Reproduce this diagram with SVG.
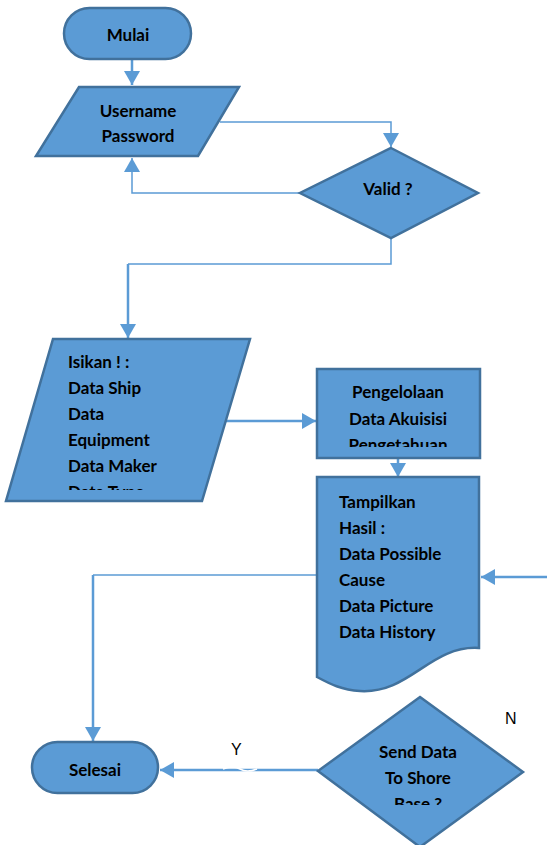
<svg xmlns="http://www.w3.org/2000/svg" width="547" height="845" viewBox="0 0 547 845">
<style>
.s{fill:#5B9BD5;stroke:#41719C;stroke-width:2.5}
.t{font-family:Lato,"Liberation Sans",sans-serif;font-weight:bold;font-size:17px;fill:#000}
.l{font-family:"Liberation Sans",sans-serif;font-size:16px;fill:#000}
.c{fill:none;stroke:#5B9BD5;stroke-width:1.5}
.c2{fill:none;stroke:#5B9BD5;stroke-width:2.5}
</style>
<defs>
<marker id="a" markerUnits="userSpaceOnUse" markerWidth="16" markerHeight="16" refX="14" refY="8" orient="auto">
<path d="M0,0 L14,8 L0,16 Z" fill="#5B9BD5"/>
</marker>
<clipPath id="k1"><rect x="0" y="330" width="260" height="160"/></clipPath>
<clipPath id="k2"><rect x="300" y="360" width="200" height="87"/></clipPath>
<clipPath id="k3"><rect x="300" y="690" width="247" height="115"/></clipPath>
</defs>
<g id="connectors">
<path class="c2" d="M132,59 V85" marker-end="url(#a)"/>
<path class="c" d="M220,122 H391 V147" marker-end="url(#a)"/>
<path class="c" d="M300,193 H132 V158" marker-end="url(#a)"/>
<path class="c" d="M391,238 V264 H128"/>
<path class="c2" d="M128,264 V338" marker-end="url(#a)"/>
<path class="c2" d="M226,421 H316" marker-end="url(#a)"/>
<path class="c2" d="M398,458 V477" marker-end="url(#a)"/>
<path class="c2" d="M547,577 H481" marker-end="url(#a)"/>
<path class="c" d="M317,575 H93"/>
<path class="c2" d="M93,575 V741" marker-end="url(#a)"/>
<path class="c2" d="M318,770 H160" marker-end="url(#a)"/>
<path d="M223,769 Q233,765 240,769 T257,769" fill="none" stroke="#fff" stroke-width="1.5"/>
<text class="l" x="231" y="755">Y</text>
<text class="l" x="505" y="724">N</text>
</g>
<g id="mulai">
<rect class="s" x="64" y="8" width="127" height="51" rx="25.5"/>
<text class="t" x="128" y="41" text-anchor="middle">Mulai</text>
</g>
<g id="login">
<path class="s" d="M79,87 H239 L198,156 H36 Z"/>
<text class="t" x="138" y="117" text-anchor="middle">Username</text>
<text class="t" x="138" y="142" text-anchor="middle">Password</text>
</g>
<g id="valid">
<path class="s" d="M391,148 L478,193 L391,238 L300,193 Z"/>
<text class="t" x="388" y="195" text-anchor="middle">Valid ?</text>
</g>
<g id="isikan">
<path class="s" d="M53,339 H250 L202,501 H6 Z"/>
<g clip-path="url(#k1)">
<text class="t" x="68" y="368">Isikan ! :</text>
<text class="t" x="68" y="394">Data Ship</text>
<text class="t" x="68" y="420">Data</text>
<text class="t" x="68" y="446">Equipment</text>
<text class="t" x="68" y="472">Data Maker</text>
<text class="t" x="68" y="498">Data Type</text>
</g>
</g>
<g id="pengelolaan">
<rect class="s" x="317" y="369" width="163" height="89"/>
<g clip-path="url(#k2)">
<text class="t" x="398" y="398" text-anchor="middle">Pengelolaan</text>
<text class="t" x="398" y="425" text-anchor="middle">Data Akuisisi</text>
<text class="t" x="398" y="451" text-anchor="middle">Pengetahuan</text>
</g>
</g>
<g id="tampilkan">
<path class="s" d="M317,477 H479 V648 C430,645 410,694 360,691 C342,690 330,684 317,677 Z"/>
<text class="t" x="339" y="508">Tampilkan</text>
<text class="t" x="339" y="534">Hasil :</text>
<text class="t" x="339" y="560">Data Possible</text>
<text class="t" x="339" y="586">Cause</text>
<text class="t" x="339" y="612">Data Picture</text>
<text class="t" x="339" y="638">Data History</text>
</g>
<g id="selesai">
<rect class="s" x="32" y="742" width="126" height="51" rx="25.5"/>
<text class="t" x="95" y="776" text-anchor="middle">Selesai</text>
</g>
<g id="send">
<path class="s" d="M420,697 L523,772 L420,847 L318,771 Z"/>
<g clip-path="url(#k3)">
<text class="t" x="418" y="758" text-anchor="middle">Send Data</text>
<text class="t" x="418" y="784" text-anchor="middle">To Shore</text>
<text class="t" x="418" y="810" text-anchor="middle">Base ?</text>
</g>
</g>
</svg>
